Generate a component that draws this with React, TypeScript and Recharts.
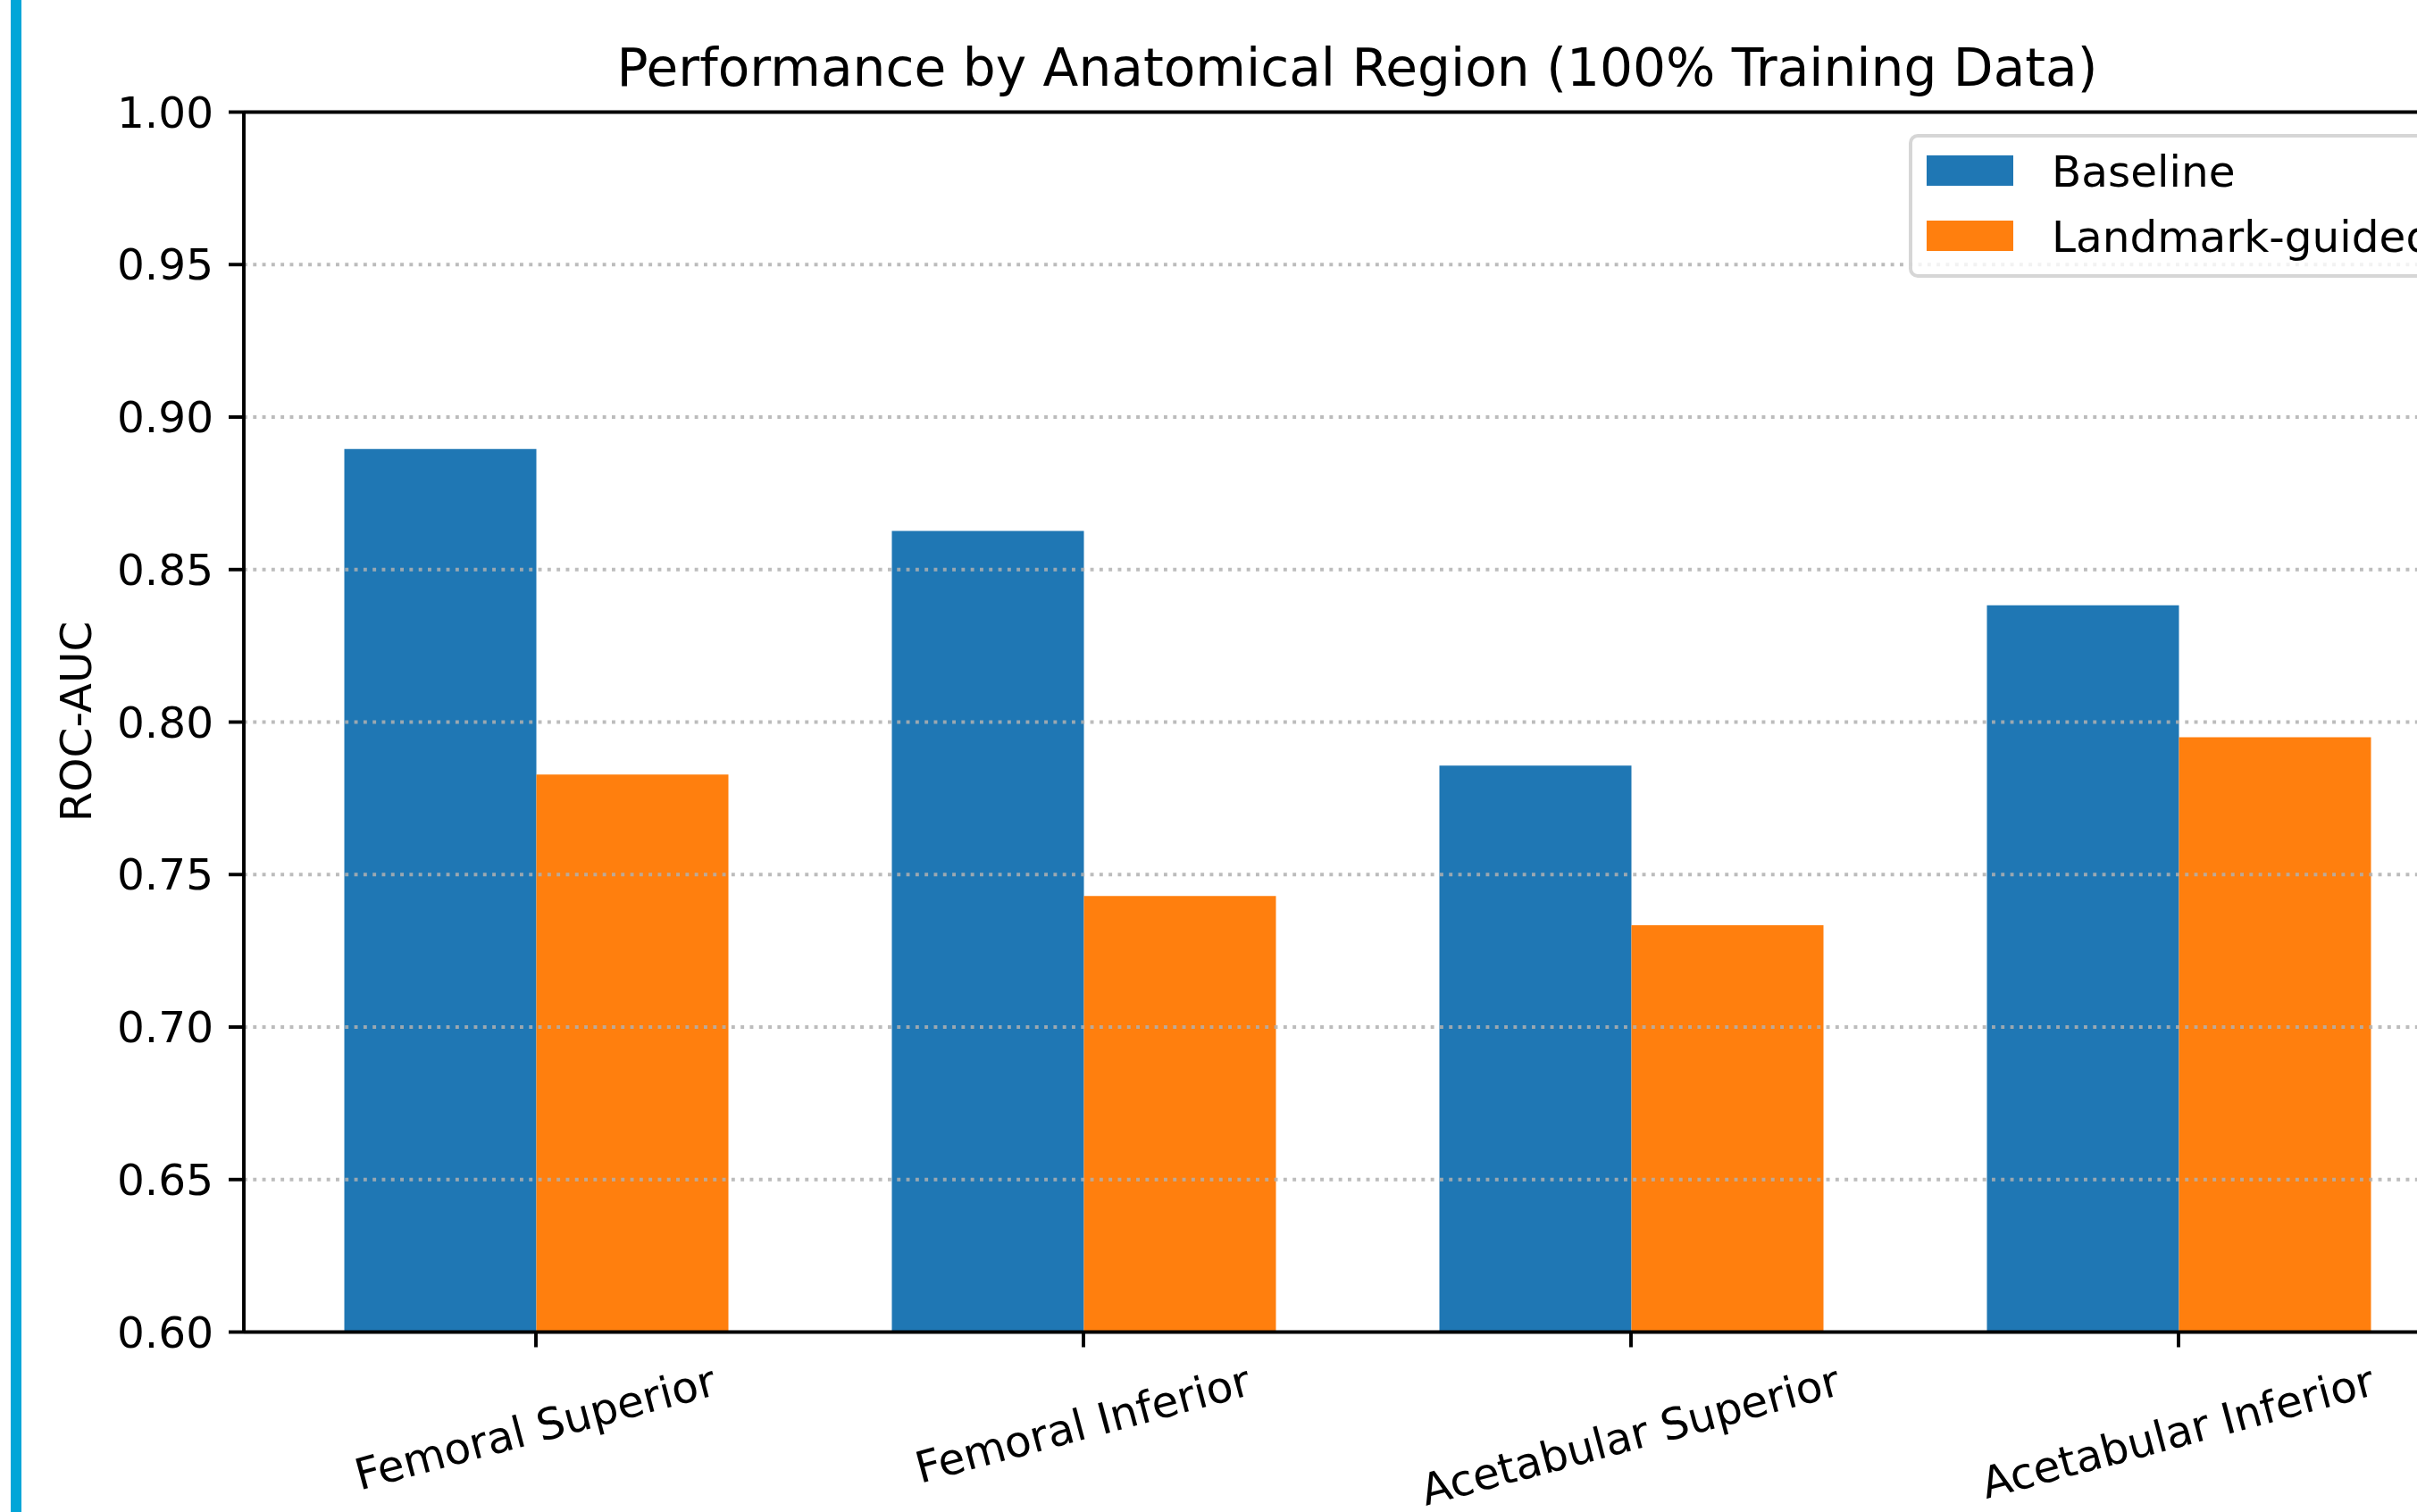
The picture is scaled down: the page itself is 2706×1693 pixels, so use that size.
import React from "react";
import { BarChart, Bar, XAxis, YAxis, ReferenceLine, Legend } from "recharts";

const categories = ["Femoral Superior", "Femoral Inferior", "Acetabular Superior", "Acetabular Inferior"];
const baselineValues = [0.8895, 0.8627, 0.7857, 0.8383];
const landmarkValues = [0.7828, 0.743, 0.7334, 0.795];
const yTicks = [0.6, 0.65, 0.7, 0.75, 0.8, 0.85, 0.9, 0.95, 1.0];
const gridTicks = [0.65, 0.7, 0.75, 0.8, 0.85, 0.9, 0.95];
const seriesNames = ["Baseline", "Landmark-guided"];
const seriesColors = ["#1f77b4", "#ff7f0e"];
const titleText = "Performance by Anatomical Region (100% Training Data)";
const yLabelText = "ROC-AUC";

const data = categories.map((c, i) => ({
  region: c,
  [seriesNames[0]]: baselineValues[i],
  [seriesNames[1]]: landmarkValues[i],
}));

const FONT = "'DejaVu Sans', sans-serif";
const FS = 48.5;
const LW = 3.9;

let measureCtx: any = null;
function measure(text: string, fs: number) {
  if (!measureCtx) {
    const c = document.createElement("canvas");
    measureCtx = c.getContext("2d");
  }
  measureCtx.font = `${fs}px 'DejaVu Sans'`;
  return measureCtx.measureText(text).width;
}

const XTick = (props: any) => {
  const { x, y, payload } = props;
  const text = String(payload.value);
  const w = measure(text, FS);
  const h = 0.968 * FS;
  const th = (15 * Math.PI) / 180;
  const H = w * Math.sin(th) + h * Math.cos(th);
  const cx = x;
  const cy = y + H / 2;
  return (
    <text
      x={cx}
      y={cy + 0.276 * FS}
      textAnchor="middle"
      fontSize={FS}
      fontFamily={FONT}
      fill="#000"
      transform={`rotate(-15, ${cx}, ${cy})`}
    >
      {text}
    </text>
  );
};

const renderLegend = (props: any) => {
  const payload = props.payload || [];
  return (
    <div
      style={{
        position: "absolute",
        left: 0,
        top: 0,
        width: 604,
        height: 161,
        boxSizing: "border-box",
        border: "4.5px solid rgba(204,204,204,0.8)",
        borderRadius: 10,
        background: "rgba(255,255,255,0.8)",
        fontFamily: FONT,
        fontSize: FS,
        color: "#000",
      }}
    >
      {payload.map((p: any, i: number) => (
        <React.Fragment key={i}>
          <div
            style={{
              position: "absolute",
              left: 16,
              top: 20 + i * 73,
              width: 97,
              height: 34,
              background: p.color,
            }}
          />
          <div
            style={{
              position: "absolute",
              left: 156,
              top: 20 + i * 73 + 17 - 0.5 * FS + 1,
              lineHeight: `${FS}px`,
              whiteSpace: "nowrap",
            }}
          >
            {p.value}
          </div>
        </React.Fragment>
      ))}
    </div>
  );
};

export default function App() {
  return (
    <div
      style={{
        position: "fixed",
        left: 0,
        top: 0,
        width: 2706,
        height: 1693,
        overflow: "hidden",
        background: "#fff",
      }}
    >
      <div
        style={{
          position: "absolute",
          left: 12,
          top: 0,
          width: 12,
          height: 1693,
          background: "#02A6D8",
        }}
      />
      <BarChart
        width={2800}
        height={1693}
        data={data}
        margin={{ top: 125.5, right: 34, bottom: 0, left: 0 }}
        barCategoryGap={92}
        barGap={0}
        style={{ position: "absolute", left: 0, top: 0 }}
      >
        <XAxis
          dataKey="region"
          height={201.5}
          padding={{ left: 20.5, right: 20.5 }}
          axisLine={{ stroke: "#000", strokeWidth: LW }}
          tickLine={{ stroke: "#000", strokeWidth: LW }}
          tickSize={17}
          tickMargin={17}
          interval={0}
          tick={<XTick />}
        />
        <YAxis
          width={273}
          domain={[0.6, 1.0]}
          ticks={yTicks}
          allowDataOverflow
          axisLine={{ stroke: "#000", strokeWidth: LW }}
          tickLine={{ stroke: "#000", strokeWidth: LW }}
          tickSize={17}
          tickMargin={17}
          tickFormatter={(v: number) => v.toFixed(2)}
          tick={{ fontSize: FS, fontFamily: FONT, fill: "#000" }}
        />
        <Bar dataKey={seriesNames[0]} name={seriesNames[0]} fill={seriesColors[0]} isAnimationActive={false} />
        <Bar dataKey={seriesNames[1]} name={seriesNames[1]} fill={seriesColors[1]} isAnimationActive={false} />
        {gridTicks.map((t) => (
          <ReferenceLine
            key={t}
            y={t}
            stroke="#b0b0b0"
            strokeOpacity={0.85}
            strokeWidth={LW}
            strokeDasharray="3.9 6.4"
          />
        ))}
        <ReferenceLine y={1.0} stroke="#000" strokeWidth={LW} />
        <Legend
          layout="vertical"
          align="center"
          verticalAlign="middle"
          content={renderLegend}
          wrapperStyle={{ left: 2137, top: 150, width: 604, height: 161 }}
        />
        <text x={1519.5} y={96} textAnchor="middle" fontSize={58.2} fontFamily={FONT} fill="#000">
          {titleText}
        </text>
        <text
          x={102}
          y={808}
          textAnchor="middle"
          fontSize={FS}
          fontFamily={FONT}
          fill="#000"
          transform="rotate(-90, 102, 808)"
        >
          {yLabelText}
        </text>
      </BarChart>
    </div>
  );
}
